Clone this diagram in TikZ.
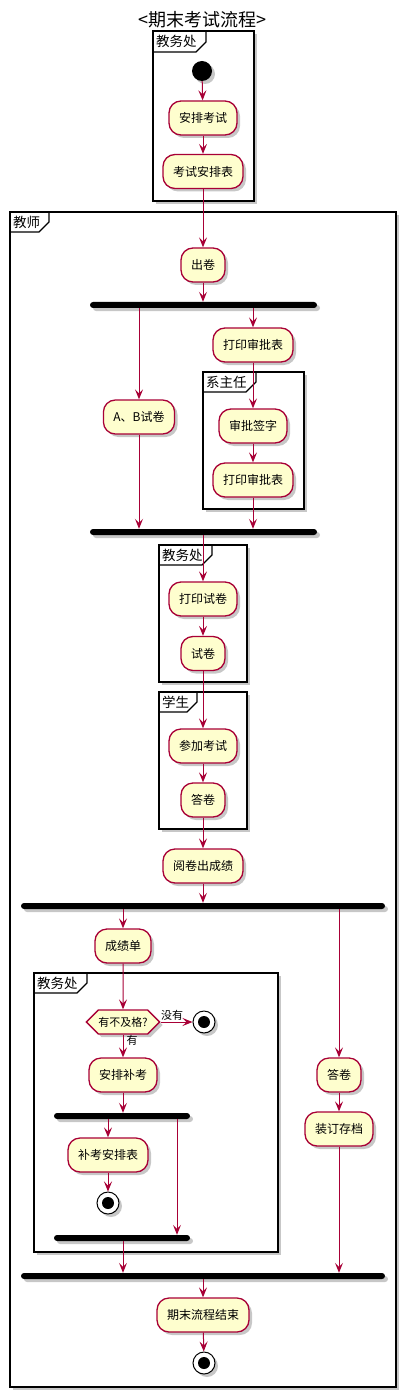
\documentclass[tikz,border=0pt]{standalone}
\usepackage{fontspec}
\setmainfont{Noto Sans CJK SC}
\usepackage{tikz}
\usetikzlibrary{arrows.meta, positioning, shapes.symbols, shadows}
\definecolor{umlred}{RGB}{168, 0, 54}
\definecolor{umlfill}{RGB}{254, 254, 206}
\tikzset{
  softshadow/.style={drop shadow={shadow xshift=3pt, shadow yshift=-3pt, opacity=0.22, fill=black}},
  act/.style={draw=umlred, fill=umlfill, line width=1.3pt, rounded corners=12pt,
    minimum height=34pt, inner xsep=10pt, inner ysep=0pt, font=\fontsize{12}{14}\selectfont, softshadow},
  choice/.style={draw=umlred, fill=umlfill, line width=1.3pt, signal, signal to=west and east,
    minimum height=24pt, inner xsep=0pt, inner ysep=0pt, font=\fontsize{11}{13}\selectfont, softshadow},
  bar/.style={fill=black, rounded corners=3pt, minimum height=6pt, inner sep=0pt, softshadow},
  startdot/.style={circle, fill=black, minimum size=20pt, inner sep=0pt, softshadow},
  stopdot/.style={circle, draw=black, fill=white, line width=1pt, minimum size=22pt, inner sep=0pt, softshadow,
    path picture={\fill[black] (path picture bounding box.center) circle (6pt);}},
  frame/.style={draw=black, fill=white, line width=1.6pt, softshadow},
  tabline/.style={draw=black, line width=1.2pt},
  plabel/.style={anchor=west, inner sep=0pt, font=\fontsize{13.5}{15}\selectfont},
  lbl/.style={inner sep=0pt, font=\fontsize{11}{13}\selectfont},
  flow/.style={draw=umlred, line width=1pt, -{Stealth[length=10pt, width=8pt, inset=4pt]}}
}

\begin{document}
\begin{tikzpicture}[x=1pt, y=-1pt]
    \useasboundingbox (0,0) rectangle (405,1396);
    \node[font=\fontsize{18}{20}\selectfont, inner sep=0pt] (title) at (202,20) {<期末考试流程>};

    % partitions
    \draw[frame] (153,31) rectangle (254,201);
    \draw[tabline] (153,52) -- (196,52) -- (206,42) -- (206,31);
    \node[plabel] (pjwc) at (156,41.5) {教务处};

    \draw[frame] (10,212) rectangle (396,1387);
    \draw[tabline] (10,232) -- (39,232) -- (49,222) -- (49,212);
    \node[plabel] (pjs) at (13,222) {教师};

    \draw[frame] (203,372) rectangle (304,509);
    \draw[tabline] (203,392) -- (246,392) -- (256,382) -- (256,372);
    \node[plabel] (pxzr) at (206,382) {系主任};

    \draw[frame] (159,545) rectangle (247,682);
    \draw[tabline] (159,565) -- (202,565) -- (212,555) -- (212,545);
    \node[plabel] (pjwcb) at (162,555) {教务处};

    \draw[frame] (159,692) rectangle (247,829);
    \draw[tabline] (159,712) -- (187,712) -- (197,702) -- (197,692);
    \node[plabel] (pxs) at (162,702) {学生};

    \draw[frame] (34,973) rectangle (278,1252);
    \draw[tabline] (34,993) -- (77,993) -- (87,983) -- (87,973);
    \node[plabel] (pjwcc) at (37,983) {教务处};

    % activities
    \node[startdot] (start) at (202,71) {};
    \node[act] (arrange) at (203,118) {安排考试};
    \node[act] (sched) at (203,171.5) {考试安排表};
    \node[act] (chujuan) at (203,265) {出卷};
    \node[bar, minimum width=227pt] (fork1) at (203.5,305) {};
    \node[act] (ab) at (139,417) {A、B试卷};
    \node[act] (print1) at (253,345) {打印审批表};
    \node[act] (sign) at (253,426) {审批签字};
    \node[act] (print2) at (253,480) {打印审批表};
    \node[bar, minimum width=227pt] (fork2) at (203.5,532) {};
    \node[act] (printexam) at (203,599) {打印试卷};
    \node[act] (paper) at (203,653.5) {试卷};
    \node[act] (takeexam) at (203,746) {参加考试};
    \node[act] (answer) at (203,800) {答卷};
    \node[act] (grade) at (203,866) {阅卷出成绩};
    \node[bar, minimum width=364pt] (fork3) at (203,906) {};
    \node[act] (scores) at (123,946) {成绩单};
    \node[choice] (check) at (123,1022) {有不及格?};
    \node[stopdot] (stopa) at (204,1022) {};
    \node[act] (makeup) at (123,1075) {安排补考};
    \node[bar, minimum width=136pt] (fork4) at (122,1116) {};
    \node[act] (mkplan) at (108,1155) {补考安排表};
    \node[stopdot] (stopb) at (108,1203) {};
    \node[bar, minimum width=136pt] (fork5) at (122,1238) {};
    \coordinate (skip) at (177,1180);
    \node[act] (answerb) at (339,1075) {答卷};
    \node[act] (bind) at (339,1129) {装订存档};
    \node[bar, minimum width=364pt] (fork6) at (203,1276) {};
    \node[act] (finish) at (203,1315) {期末流程结束};
    \node[stopdot] (endn) at (204,1363) {};

    % connectors
    \draw[flow] (start) -- (arrange);
    \draw[flow] (arrange) -- (sched);
    \draw[flow] (sched) -- (chujuan);
    \draw[flow] (chujuan) -- (fork1.north -| chujuan.south);
    \draw[flow] (ab.north |- fork1.south) -- (ab);
    \draw[flow] (print1.north |- fork1.south) -- (print1);
    \draw[flow] (print1) -- (sign);
    \draw[flow] (sign) -- (print2);
    \draw[flow] (ab) -- (fork2.north -| ab.south);
    \draw[flow] (print2) -- (fork2.north -| print2.south);
    \draw[flow] (printexam.north |- fork2.south) -- (printexam);
    \draw[flow] (printexam) -- (paper);
    \draw[flow] (paper) -- (takeexam);
    \draw[flow] (takeexam) -- (answer);
    \draw[flow] (answer) -- (grade);
    \draw[flow] (grade) -- (fork3.north -| grade.south);
    \draw[flow] (scores.north |- fork3.south) -- (scores);
    \draw[flow] (answerb.north |- fork3.south) -- (answerb);
    \draw[flow] (scores) -- (check);
    \draw[flow] (check.east) -- node[lbl, pos=0, anchor=south west, yshift=1pt] (nolbl) {没有} (stopa);
    \draw[flow] (check.south) -- node[lbl, pos=0, anchor=north west, xshift=3pt] (yeslbl) {有} (makeup);
    \draw[flow] (makeup) -- (fork4.north -| makeup.south);
    \draw[flow] (mkplan.north |- fork4.south) -- (mkplan);
    \draw[flow] (mkplan) -- (stopb);
    \draw[flow] (fork4.south -| skip) -- (fork5.north -| skip);
    \draw[flow] (fork5.south -| scores.south) -- (fork6.north -| scores.south);
    \draw[flow] (answerb) -- (bind);
    \draw[flow] (bind) -- (fork6.north -| bind.south);
    \draw[flow] (fork6.south -| finish.north) -- (finish);
    \draw[flow] (finish) -- (endn);
\end{tikzpicture}
\end{document}
